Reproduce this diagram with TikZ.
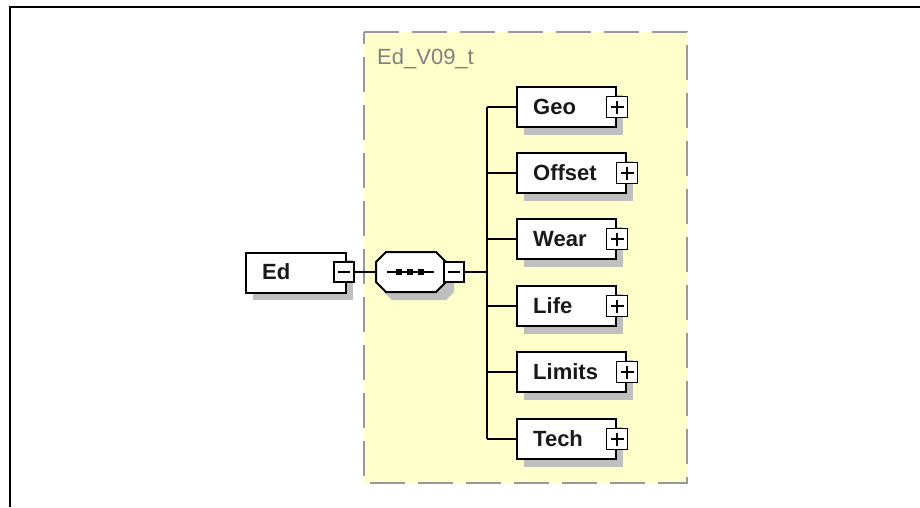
\documentclass[tikz,border=0pt]{standalone}
\usepackage{fontspec}
\setmainfont{Liberation Sans}
\begin{document}
\begin{tikzpicture}[x=1pt,y=-1pt,
  elbox/.style={draw=black, line width=2pt, fill=white},
  shadowbox/.style={fill=black!25, draw=none},
  conn/.style={draw=black, line width=2pt},
  lbl/.style={anchor=west, inner sep=0pt, font=\fontsize{22}{26}\selectfont\bfseries, text=black!90},
  pm/.style={draw=black, line width=1.6pt, fill=white, minimum size=20pt, inner sep=0pt}
]
\useasboundingbox (0,0) rectangle (920,507);
% frame
\draw[line width=2.8pt] (10,507) -- (10,7) -- (920,7);
% group
\path[fill={rgb,255:red,255;green,255;blue,204}] (364,32) rectangle (687,483);
\draw[draw=black!40, line width=2.2pt, dash pattern=on 35pt off 13pt] (364,32) -- (687,32) -- (687,483) -- (364,483) -- cycle;
\node[anchor=west, inner sep=0pt, font=\fontsize{22}{26}\selectfont, text=black!50] (grp) at (377,59) {Ed\_V09\_t};

% Ed root
\path[shadowbox] (253,260) rectangle (353,300);
\node[elbox, minimum width=100pt, minimum height=40pt, inner sep=0pt, anchor=north west] (ed) at (245,252) {};
\node[lbl] (edt) at (262,272) {Ed};
\node[pm] (edm) at (344,272) {};
\draw[line width=1.6pt] (edm.center) ++(-6,0) -- ++(12,0);

% sequence
\path[shadowbox] (392,260) -- (446,260) -- (454,268) -- (454,292) -- (446,300) -- (392,300) -- (384,292) -- (384,268) -- cycle;
\draw[elbox] (386,252) -- (436,252) -- (446,262) -- (446,282) -- (436,292) -- (386,292) -- (376,282) -- (376,262) -- cycle;
\coordinate (seqw) at (376,272);
\draw[line width=1.6pt] (387,272) -- (434,272);
\foreach \xx in {399,410,421} \fill (\xx-3.3,268.7) rectangle (\xx+3.3,275.3);
\node[pm] (sqm) at (454,272) {};
\draw[line width=1.6pt] (sqm.center) ++(-6,0) -- ++(12,0);
\draw[conn] (edm.east) -- (seqw);

% bus
\coordinate (bus) at (487,272);
\draw[conn] (sqm.east) -- (bus);
\draw[conn] (487,107) -- (487,439);

% children
\foreach \nm/\txt/\cy/\w in {geo/Geo/107/99, off/Offset/173/109, wear/Wear/239/99, life/Life/306/99, lim/Limits/372/109, tech/Tech/439/99} {
  \path[shadowbox] (524,\cy-12) rectangle (516+\w+8,\cy+28);
  \node[elbox, minimum width=\w pt, minimum height=40pt, inner sep=0pt, anchor=west] (\nm) at (516,\cy) {};
  \node[lbl] (\nm t) at (533,\cy) {\txt};
  \node[pm, minimum size=21pt] (\nm p) at (\nm.east) {};
  \draw[line width=1.6pt] (\nm p.center) ++(-6.5,0) -- ++(13,0);
  \draw[line width=1.6pt] (\nm p.center) ++(0,-6.5) -- ++(0,13);
  \draw[conn] (487,\cy) -- (\nm.west);
}
\end{tikzpicture}
\end{document}
